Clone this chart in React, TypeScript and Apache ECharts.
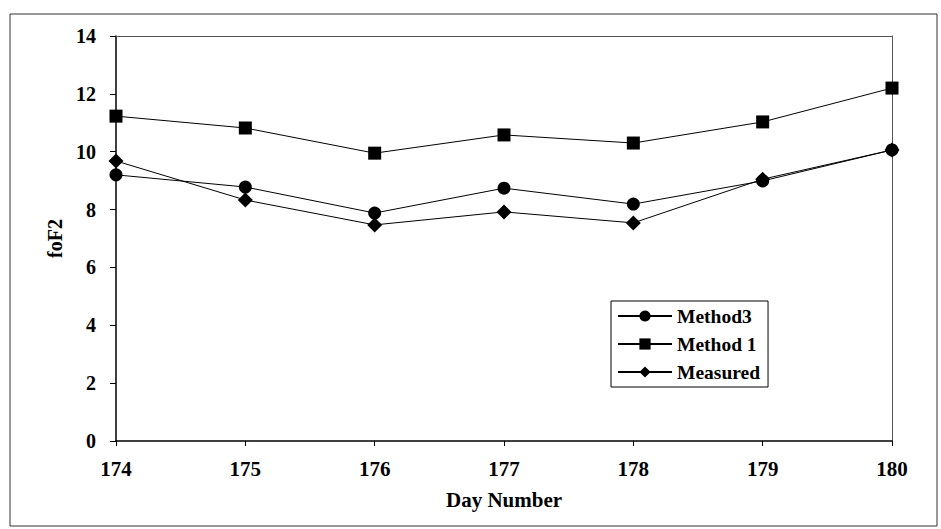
import React, { useEffect, useRef } from "react";
import * as echarts from "echarts";

const days = [174, 175, 176, 177, 178, 179, 180];
const method3 = [9.2, 8.78, 7.88, 8.74, 8.19, 8.99, 10.06];
const method1 = [11.23, 10.82, 9.95, 10.58, 10.3, 11.03, 12.2];
const measured = [9.68, 8.33, 7.47, 7.92, 7.54, 9.05, 10.06];
const seriesNames = ["Method3", "Method 1", "Measured"];

const FONT = "'Liberation Serif', 'Times New Roman', serif";

export default function App() {
  const ref = useRef<HTMLDivElement>(null);
  useEffect(() => {
    if (!ref.current) return;
    const chart = echarts.init(ref.current, undefined, { renderer: "svg" });
    const pair = (vals: number[]) => days.map((d, i) => [d, vals[i]]);
    const mk = (name: string, vals: number[], symbol: string, size: number) => ({
      name,
      type: "line",
      data: pair(vals),
      symbol,
      symbolSize: size,
      lineStyle: { color: "#000", width: 1 },
      itemStyle: { color: "#000" },
      z: 3,
    });
    const labelStyle = { color: "#000", fontFamily: FONT, fontWeight: "bold", fontSize: 20 };
    chart.setOption({
      animation: false,
      backgroundColor: "#fff",
      grid: { left: 116, right: 49, top: 36, bottom: 88 },
      xAxis: [
        {
          type: "value",
          min: 174,
          max: 180,
          interval: 1,
          name: "Day Number",
          nameLocation: "middle",
          nameGap: 48,
          nameTextStyle: { ...labelStyle, fontSize: 21 },
          axisLine: { show: true, lineStyle: { color: "#000", width: 1.5 } },
          axisTick: { show: true, length: 5, lineStyle: { color: "#000" } },
          axisLabel: { ...labelStyle, fontSize: 21, margin: 17 },
          splitLine: { show: false },
        },
        {
          type: "value",
          position: "top",
          min: 174,
          max: 180,
          axisLine: { show: true, onZero: false, lineStyle: { color: "#555", width: 1 } },
          axisTick: { show: false },
          axisLabel: { show: false },
          splitLine: { show: false },
        },
      ],
      yAxis: [
        {
          type: "value",
          min: 0,
          max: 14,
          interval: 2,
          name: "foF2",
          nameLocation: "middle",
          nameGap: 29,
          nameTextStyle: { ...labelStyle, fontSize: 20 },
          axisLine: { show: true, lineStyle: { color: "#000", width: 1.5 } },
          axisTick: { show: true, length: 6, lineStyle: { color: "#000" } },
          axisLabel: { ...labelStyle, margin: 20 },
          splitLine: { show: false },
        },
        {
          type: "value",
          position: "right",
          min: 0,
          max: 14,
          axisLine: { show: true, onZero: false, lineStyle: { color: "#555", width: 1 } },
          axisTick: { show: false },
          axisLabel: { show: false },
          splitLine: { show: false },
        },
      ],
      legend: {
        orient: "vertical",
        left: 611,
        top: 301,
        width: 163,
        borderColor: "#000",
        borderWidth: 1,
        borderRadius: 0,
        padding: [5, 8, 5, 6],
        itemWidth: 54,
        itemHeight: 14,
        itemGap: 8,
        data: seriesNames,
        textStyle: { ...labelStyle, fontSize: 19.5 },
      },
      graphic: [
        {
          type: "rect",
          shape: { x: 10, y: 14, width: 927, height: 512 },
          style: { fill: "none", stroke: "#333", lineWidth: 1 },
          silent: true,
        },
      ],
      series: [
        mk(seriesNames[0], method3, "circle", 13),
        mk(seriesNames[1], method1, "rect", 13),
        mk(seriesNames[2], measured, "diamond", 15),
      ],
    });
    return () => chart.dispose();
  }, []);
  return (
    <div
      ref={ref}
      style={{ position: "fixed", left: 0, top: 0, width: 941, height: 529, background: "#fff" }}
    />
  );
}
